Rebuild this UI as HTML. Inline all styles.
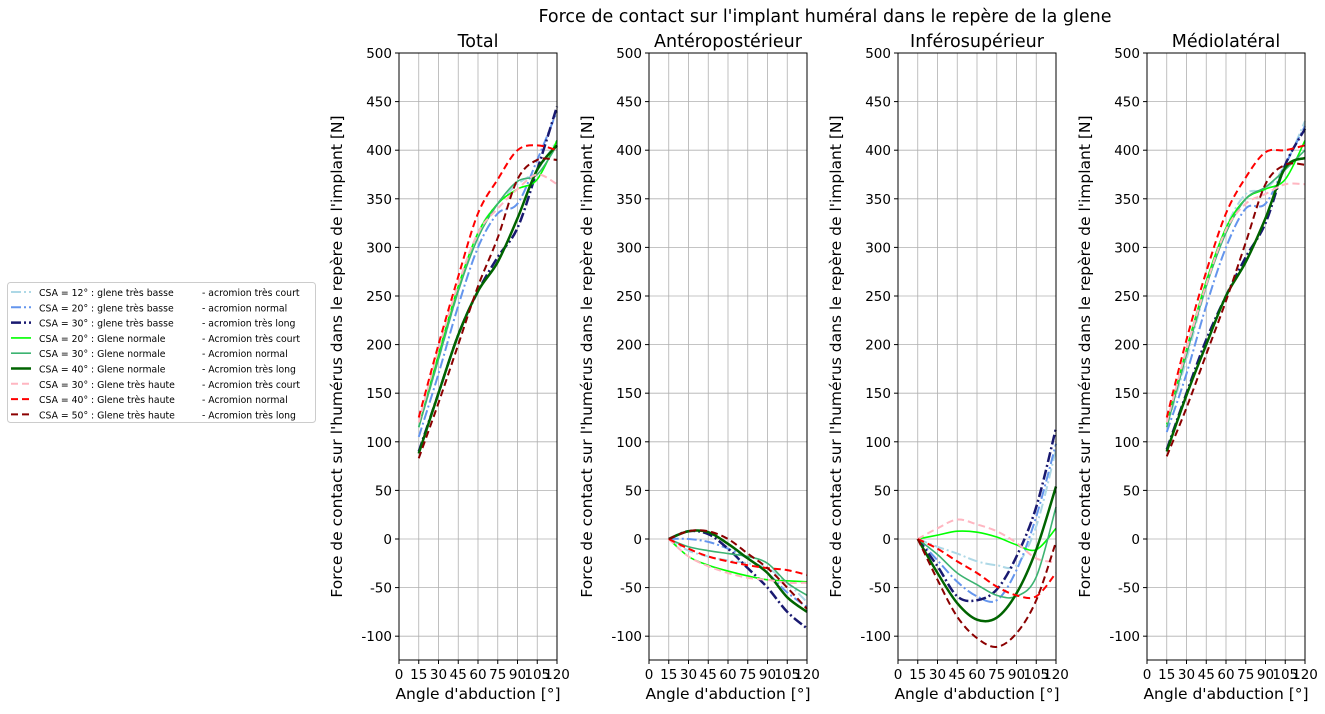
<!DOCTYPE html>
<html><head><meta charset="utf-8"><style>
body{margin:0;background:#fff;}
svg{font-family:"DejaVu Sans","Liberation Sans",sans-serif;}
</style></head><body>
<svg id="chart" width="1325" height="709" xmlns="http://www.w3.org/2000/svg">
<text x="825" y="22" font-size="17.5" text-anchor="middle">Force de contact sur l'implant huméral dans le repère de la glene</text>
</svg>
<script>
const xs = [15,30,45,60,75,90,105,120];
const xTicks = [0,15,30,45,60,75,90,105,120];
const yTicks = [-100,-50,0,50,100,150,200,250,300,350,400,450,500];
const panelTitles = ["Total","Antéropostérieur","Inférosupérieur","Médiolatéral"];
const seriesLabels = [
 ["CSA = 12° : glene très basse","-  acromion très court"],
 ["CSA = 20° : glene très basse","-  acromion normal"],
 ["CSA = 30° : glene très basse","-  acromion très long"],
 ["CSA = 20° : Glene normale","-  Acromion très court"],
 ["CSA = 30° : Glene normale","-  Acromion normal"],
 ["CSA = 40° : Glene normale","-  Acromion très long"],
 ["CSA = 30° : Glene très haute","-  Acromion très court"],
 ["CSA = 40° : Glene très haute","-  Acromion normal"],
 ["CSA = 50° : Glene très haute","-  Acromion très long"]
];
const totalValues = [
 [115,185,255,315,345,365,380,410],
 [105,170,240,300,335,345,390,440],
 [90,150,210,255,290,320,380,445],
 [115,190,260,315,345,360,370,410],
 [115,185,255,310,345,368,375,405],
 [88,150,210,255,285,330,380,405],
 [120,195,262,315,340,360,375,365],
 [125,200,270,335,370,400,405,400],
 [83,140,200,260,310,370,390,390]
];
const anteroValues = [
 [0,-12,-18,-22,-25,-30,-45,-65],
 [0,0,-3,-10,-20,-35,-55,-70],
 [0,8,5,-10,-30,-50,-75,-92],
 [0,-18,-27,-33,-38,-42,-43,-44],
 [0,-8,-12,-15,-18,-25,-45,-58],
 [0,8,7,-5,-20,-35,-60,-75],
 [0,-18,-28,-35,-40,-42,-45,-45],
 [0,-10,-18,-23,-27,-30,-32,-37],
 [0,8,8,0,-15,-30,-50,-72]
];
const inferoValues = [
 [0,-8,-15,-23,-27,-27,13,92],
 [0,-22,-44,-59,-63,-32,23,98],
 [0,-28,-59,-63,-52,-18,33,114],
 [0,4,8,7,2,-6,-11,11],
 [0,-16,-35,-47,-58,-59,-39,33],
 [0,-35,-66,-83,-81,-56,-11,54],
 [0,11,20,15,8,-4,-20,-24],
 [0,-10,-23,-35,-49,-58,-59,-35],
 [0,-42,-80,-102,-111,-97,-63,-3]
];
const medioValues = [
 [115,185,260,320,355,360,385,430],
 [110,170,240,300,340,345,385,425],
 [92,150,205,250,290,325,385,422],
 [118,195,265,320,350,360,370,410],
 [115,190,260,315,350,362,380,400],
 [90,148,200,250,285,330,382,392],
 [120,195,262,318,345,355,365,365],
 [125,205,275,335,372,398,400,405],
 [85,135,190,245,305,365,385,385]
];
const panelData = [totalValues, anteroValues, inferoValues, medioValues];
const styles = [
 {c:"#add8e6",w:2,d:"10 3 2 3"},
 {c:"#6495ed",w:2,d:"10 3 2 3"},
 {c:"#191970",w:2.5,d:"10 3 2 3"},
 {c:"#00ff00",w:1.6,d:""},
 {c:"#3cb371",w:1.6,d:""},
 {c:"#006400",w:2.5,d:""},
 {c:"#ffb6c1",w:2,d:"7 4"},
 {c:"#ff0000",w:2,d:"7 4"},
 {c:"#8b0000",w:2,d:"7 4"}
];
const NS="http://www.w3.org/2000/svg";
const svg=document.getElementById('chart');
function mk(t,a,p){const e=document.createElementNS(NS,t);for(const k in a)e.setAttribute(k,a[k]);(p||svg).appendChild(e);return e;}
const panelX=[399,649,898,1147], pw=158, pTop=53, pBot=660;
const xmin=0,xmax=120,ymin=-124.5,ymax=500;
function smooth(pts){let d="M"+pts[0][0]+","+pts[0][1];for(let i=0;i<pts.length-1;i++){const p0=pts[i-1]||pts[i],p1=pts[i],p2=pts[i+1],p3=pts[i+2]||p2;d+=" C"+(p1[0]+(p2[0]-p0[0])/6)+","+(p1[1]+(p2[1]-p0[1])/6)+" "+(p2[0]-(p3[0]-p1[0])/6)+","+(p2[1]-(p3[1]-p1[1])/6)+" "+p2[0]+","+p2[1];}return d;}
panelData.forEach((vals,pi)=>{
 const x0=panelX[pi];
 const sx=v=>x0+(v-xmin)/(xmax-xmin)*pw;
 const sy=v=>pBot-(v-ymin)/(ymax-ymin)*(pBot-pTop);
 const g=mk('g',{});
 
 
 xTicks.forEach(t=>{const l=mk('line',{x1:sx(t),x2:sx(t),y1:pTop,y2:pBot,stroke:"#b0b0b0","stroke-width":0.8},g);
  
  
  mk('line',{x1:sx(t),x2:sx(t),y1:pBot,y2:pBot+4,stroke:"#000"},g);
  const tx=mk('text',{x:sx(t),y:pBot+19,"font-size":13.5,"text-anchor":"middle"},g);tx.textContent=t;
  
  });
 yTicks.forEach(t=>{const l=mk('line',{x1:x0,x2:x0+pw,y1:sy(t),y2:sy(t),stroke:"#b0b0b0","stroke-width":0.8},g);
  
  
  mk('line',{x1:x0-4,x2:x0,y1:sy(t),y2:sy(t),stroke:"#000"},g);
  const tx=mk('text',{x:x0-7,y:sy(t)+5,"font-size":13.5,"text-anchor":"end"},g);tx.textContent=t;
  
  });
 const cg=mk('g',{},g);
 vals.forEach((s,si)=>{const st=styles[si];const p=mk('path',{d:smooth(s.map((v,i)=>[sx(xs[i]),sy(v)])),fill:"none",stroke:st.c,"stroke-width":st.w,"stroke-dasharray":st.d},cg);
  
  });
 const fr=mk('rect',{x:x0,y:pTop,width:pw,height:pBot-pTop,fill:"none",stroke:"#000","stroke-width":1},g);
 
 
 const tt=mk('text',{x:x0+pw/2,y:47,"font-size":17.5,"text-anchor":"middle"},g);tt.textContent=panelTitles[pi];
 
 
 const xl=mk('text',{x:x0+pw/2,y:699,"font-size":15.5,"text-anchor":"middle"},g);xl.textContent="Angle d'abduction [°]";
 
 
 const yl=mk('text',{x:0,y:0,"font-size":15.5,"text-anchor":"middle",transform:"translate("+(x0-57)+","+((pTop+pBot)/2)+") rotate(-90)"},g);yl.textContent="Force de contact sur l'humérus dans le repère de l'implant [N]";
 
 
});
const lg=mk('g',{});


mk('rect',{x:7.5,y:282.5,width:308,height:140,rx:3,fill:"#fff",stroke:"#ccc"},lg);
seriesLabels.forEach((lb,i)=>{const st=styles[i];const y=292+i*15.3;
 const l=mk('line',{x1:11,x2:31,y1:y,y2:y,stroke:st.c,"stroke-width":st.w,"stroke-dasharray":st.d},lg);
 
 
 const t=mk('text',{x:39,y:y+4,"font-size":9.3},lg);t.textContent=lb[0];
 
 
 const t2=mk('text',{x:202,y:y+4,"font-size":9.3},lg);t2.textContent=lb[1];
 
 
});
</script>
</body></html>
